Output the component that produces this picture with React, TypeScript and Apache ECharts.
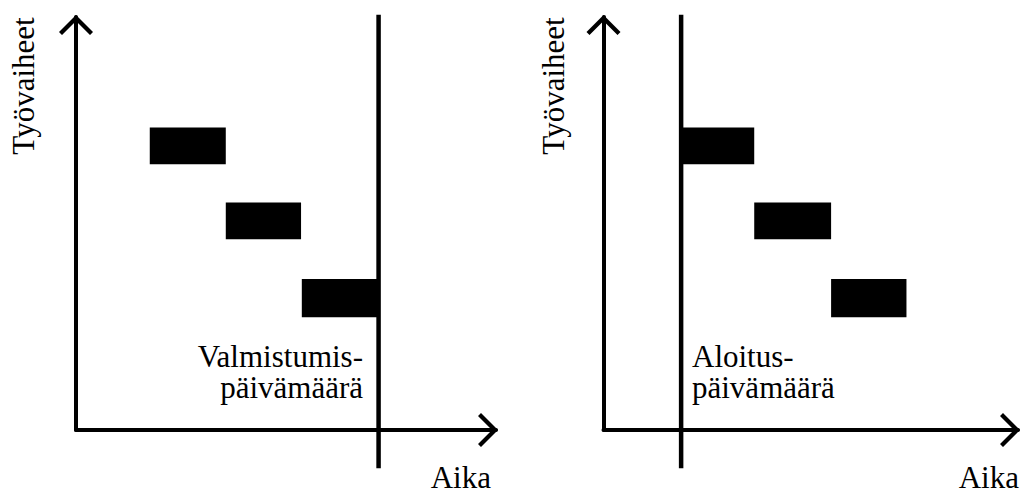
import React, { useEffect, useRef } from 'react';
import * as echarts from 'echarts';

// Task rows (value units on the y axis): bottom and top edge of each task bar
const taskLow = [3.54, 2.54, 1.5];
const taskHigh = [4.03, 3.03, 2.01];

// Left chart: backward scheduling from the completion date
const leftStart = [0.98, 1.99, 3.0];
const leftEnd = [1.99, 2.99, 4.01];
const leftMilestone = 4.02;

// Right chart: forward scheduling from the start date
const rightStart = [1.03, 2.0, 3.02];
const rightEnd = [2.0, 3.02, 4.02];
const rightMilestone = 1.03;

// vertical extent of the milestone lines (y value units)
const milestoneSpan = [-0.51, 5.53];

const xMaxLeft = 5.58;
const xMaxRight = 5.5;
const yMax = 5.5;

const yName = 'Työvaiheet';
const xName = 'Aika';
const leftLabel = 'Valmistumis-\npäivämäärä';
const rightLabel = 'Aloitus-\npäivämäärä';

const FONT = 'Liberation Serif';
const INK = '#000';
const CHEVRON = 'path://M17 0 L34 17 L31 20 L17 6 L3 20 L0 17 Z';

function axisLine() {
  return {
    show: true,
    onZero: false,
    symbol: ['none', CHEVRON],
    symbolSize: [34, 20],
    symbolOffset: [0, -8],
    lineStyle: { color: INK, width: 4, cap: 'round' },
  };
}

function xAxis(gridIndex: number, max: number) {
  return {
    gridIndex,
    type: 'value',
    min: 0,
    max,
    axisLine: axisLine(),
    axisTick: { show: false },
    axisLabel: { show: false },
    splitLine: { show: false },
  };
}

function yAxis(gridIndex: number) {
  return {
    gridIndex,
    type: 'value',
    min: 0,
    max: yMax,
    axisLine: axisLine(),
    axisTick: { show: false },
    axisLabel: { show: false },
    splitLine: { show: false },
  };
}

function barSeries(idx: number, starts: number[], ends: number[]) {
  return {
    type: 'custom',
    xAxisIndex: idx,
    yAxisIndex: idx,
    clip: false,
    data: starts.map((s, i) => [s, ends[i], taskLow[i], taskHigh[i]]),
    encode: { x: [0, 1], y: [2, 3] },
    renderItem: (params: any, api: any) => {
      const p1 = api.coord([api.value(0), api.value(3)]);
      const p2 = api.coord([api.value(1), api.value(2)]);
      return {
        type: 'rect',
        shape: { x: p1[0], y: p1[1], width: p2[0] - p1[0], height: p2[1] - p1[1] },
        style: { fill: INK },
      };
    },
  };
}

function milestoneSeries(idx: number, x: number) {
  return {
    type: 'custom',
    xAxisIndex: idx,
    yAxisIndex: idx,
    clip: false,
    z: 3,
    data: [[x, milestoneSpan[0], milestoneSpan[1]]],
    encode: { x: 0, y: [1, 2] },
    renderItem: (params: any, api: any) => {
      const a = api.coord([api.value(0), api.value(1)]);
      const b = api.coord([api.value(0), api.value(2)]);
      return {
        type: 'line',
        shape: { x1: a[0], y1: a[1], x2: b[0], y2: b[1] },
        style: { stroke: INK, lineWidth: 4.5 },
      };
    },
  };
}

function label(text: string, x: number, y: number, align: string, rotation = 0, vAlign = 'top') {
  return {
    type: 'text',
    x,
    y,
    rotation,
    z: 10,
    style: {
      text,
      fill: INK,
      fontFamily: FONT,
      fontSize: 31,
      lineHeight: 31,
      align,
      verticalAlign: vAlign,
    },
  };
}

export default function App() {
  const ref = useRef<HTMLDivElement>(null);
  useEffect(() => {
    if (!ref.current) return;
    const chart = echarts.init(ref.current, null, { renderer: 'svg' });
    chart.setOption({
      animation: false,
      backgroundColor: '#fff',
      grid: [
        { left: 76, top: 17, width: 420, height: 413 },
        { left: 603.5, top: 17, width: 414.5, height: 413 },
      ],
      xAxis: [xAxis(0, xMaxLeft), xAxis(1, xMaxRight)],
      yAxis: [yAxis(0), yAxis(1)],
      series: [
        barSeries(0, leftStart, leftEnd),
        milestoneSeries(0, leftMilestone),
        barSeries(1, rightStart, rightEnd),
        milestoneSeries(1, rightMilestone),
      ],
      graphic: [
        label(yName, 23, 86, 'center', Math.PI / 2, 'middle'),
        label(yName, 553, 86, 'center', Math.PI / 2, 'middle'),
        label(leftLabel, 363, 341, 'right'),
        label(rightLabel, 692, 341, 'left'),
        label(xName, 491, 462, 'right'),
        label(xName, 1019, 462, 'right'),
      ],
    });
    return () => chart.dispose();
  }, []);
  return (
    <div
      ref={ref}
      style={{ position: 'fixed', left: 0, top: 0, width: 1021, height: 495, background: '#fff' }}
    />
  );
}
